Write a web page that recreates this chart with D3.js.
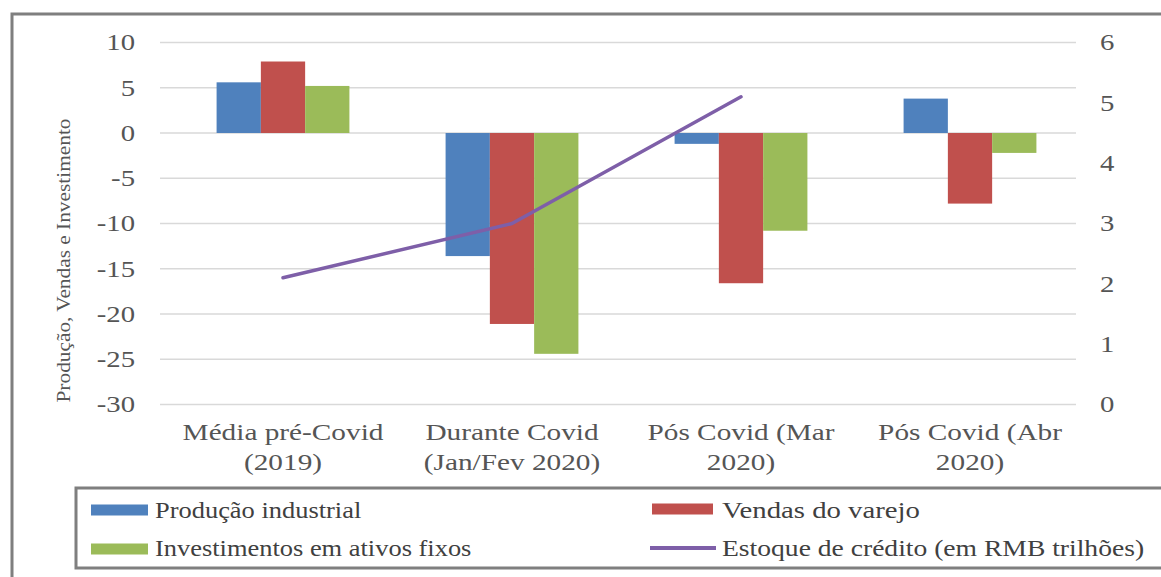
<!DOCTYPE html>
<html>
<head>
<meta charset="utf-8">
<script src="https://cdn.jsdelivr.net/npm/d3@7"></script>
<style>
  html, body { margin: 0; padding: 0; background: #fff; }
  svg { display: block; }
  svg text { font-family: "Liberation Serif", "Times New Roman", Times, "DejaVu Serif", serif; }
</style>
</head>
<body>
<svg id="chart" width="1161" height="577"></svg>
<script>
// ---- data ----
const categories = ["Média pré-Covid (2019)", "Durante Covid (Jan/Fev 2020)", "Pós Covid (Mar 2020)", "Pós Covid (Abr 2020)"];
const categoryLines = [["Média pré-Covid", "(2019)"], ["Durante Covid", "(Jan/Fev 2020)"], ["Pós Covid (Mar", "2020)"], ["Pós Covid (Abr", "2020)"]];
const seriesNames = ["Produção industrial", "Vendas do varejo", "Investimentos em ativos fixos"];
const producao = [5.6, -13.6, -1.2, 3.8];
const vendas = [7.9, -21.1, -16.6, -7.8];
const investimentos = [5.2, -24.4, -10.8, -2.2];
const creditoName = "Estoque de crédito (em RMB trilhões)";
const credito = [2.1, 3.0, 5.1];            // first three categories only
const leftTicks = [10, 5, 0, -5, -10, -15, -20, -25, -30];
const rightTicks = [0, 1, 2, 3, 4, 5, 6];
const yTitle = "Produção, Vendas e Investimento";
const colors = ["#4F81BD", "#C0504D", "#9BBB59"];
const lineColor = "#7E5FA8";

const seriesValues = [producao, vendas, investimentos];
const FONT = "'Liberation Serif', 'Times New Roman', Times, 'DejaVu Serif', serif";

// ---- layout ----
const svg = d3.select("#chart");
const plotLeft = 160, plotRight = 1076, plotTop = 42.5, plotBottom = 404.5;

const yL = d3.scaleLinear().domain([-30, 10]).range([plotBottom, plotTop]);
const yR = d3.scaleLinear().domain([0, 6]).range([plotBottom, plotTop]);
const x = d3.scaleBand().domain(categories).range([168.5, 1084.5]).paddingInner(0.42).paddingOuter(0.21);
const xs = d3.scaleBand().domain(seriesNames).range([0, x.bandwidth()]);

// outer frame
svg.append("rect").attr("x", 12).attr("y", 14).attr("width", 1200).attr("height", 620)
  .attr("fill", "none").attr("stroke", "#7f7f7f").attr("stroke-width", 3);

// gridlines
svg.append("g").selectAll("line").data(leftTicks).join("line")
  .attr("x1", plotLeft).attr("x2", plotRight)
  .attr("y1", d => yL(d)).attr("y2", d => yL(d))
  .attr("stroke", "#d9d9d9").attr("stroke-width", 1.5);

// axes
const tickSX = 1.25;
const leftAxis = svg.append("g").attr("transform", `translate(${plotLeft},0)`)
  .call(d3.axisLeft(yL).tickValues(leftTicks).tickSize(0).tickPadding(25).tickFormat(d => String(d)));
const rightAxis = svg.append("g").attr("transform", `translate(${plotRight},0)`)
  .call(d3.axisRight(yR).tickValues(rightTicks).tickSize(0).tickPadding(24).tickFormat(d => String(d)));
[leftAxis, rightAxis].forEach(ax => {
  ax.attr("font-family", FONT).attr("font-size", 23);
  ax.select(".domain").remove();
  ax.selectAll("text")
    .style("font-family", FONT)
    .attr("fill", "#555555")
    .each(function () {
      const t = d3.select(this);
      t.attr("x", +t.attr("x") / tickSX).attr("transform", `scale(${tickSX},1)`);
    });
});

// y title
svg.append("text")
  .attr("transform", `translate(70,${(118 + 403) / 2}) rotate(-90)`)
  .attr("text-anchor", "middle").attr("font-size", 19).attr("fill", "#555555")
  .style("font-family", FONT)
  .attr("textLength", 284).attr("lengthAdjust", "spacingAndGlyphs")
  .text(yTitle);

// bars
const groups = svg.append("g").selectAll("g").data(categories).join("g")
  .attr("transform", d => `translate(${x(d)},0)`);
groups.selectAll("rect")
  .data((d, i) => seriesNames.map((s, j) => ({ s, j, v: seriesValues[j][i] })))
  .join("rect")
  .attr("x", d => xs(d.s)).attr("width", xs.bandwidth())
  .attr("y", d => yL(Math.max(0, d.v)))
  .attr("height", d => Math.abs(yL(d.v) - yL(0)))
  .attr("fill", d => colors[d.j]);

// line
const lineGen = d3.line().x((d, i) => x(categories[i]) + x.bandwidth() / 2).y(d => yR(d));
svg.append("path").datum(credito).attr("d", lineGen)
  .attr("fill", "none").attr("stroke", lineColor).attr("stroke-width", 3.5)
  .attr("stroke-linejoin", "round").attr("stroke-linecap", "round");

// category labels
const catSX = 1.22;
svg.append("g").selectAll("text").data(categories).join("text")
  .attr("transform", d => `translate(${x(d) + x.bandwidth() / 2},440) scale(${catSX},1)`)
  .attr("text-anchor", "middle").attr("font-size", 24).attr("fill", "#555555")
  .style("font-family", FONT)
  .each(function (d, i) {
    const t = d3.select(this);
    categoryLines[i].forEach((ln, k) => {
      t.append("tspan").attr("x", 0).attr("dy", k === 0 ? 0 : 30).text(ln);
    });
  });

// legend
svg.append("rect").attr("x", 76).attr("y", 488).attr("width", 1200).attr("height", 80)
  .attr("fill", "none").attr("stroke", "#7f7f7f").attr("stroke-width", 3);

const legendItems = [
  { name: seriesNames[0], type: "bar", color: colors[0], sx: 91, sw: 57, tx: 155, cy: 510, base: 518, k: 1.15 },
  { name: seriesNames[1], type: "bar", color: colors[1], sx: 652, sw: 61, tx: 722, cy: 509, base: 518, k: 1.25 },
  { name: seriesNames[2], type: "bar", color: colors[2], sx: 91, sw: 57, tx: 155, cy: 549, base: 556, k: 1.15 },
  { name: creditoName, type: "line", color: lineColor, sx: 650, sw: 66, tx: 722, cy: 548, base: 556, k: 1.2 }
];
const leg = svg.append("g").selectAll("g").data(legendItems).join("g");
leg.filter(d => d.type === "bar").append("rect")
  .attr("x", d => d.sx).attr("y", d => d.cy - 5.5).attr("width", d => d.sw).attr("height", 11)
  .attr("fill", d => d.color);
leg.filter(d => d.type === "line").append("line")
  .attr("x1", d => d.sx).attr("x2", d => d.sx + d.sw).attr("y1", d => d.cy).attr("y2", d => d.cy)
  .attr("stroke", d => d.color).attr("stroke-width", 4);
leg.append("text")
  .attr("transform", d => `translate(${d.tx},${d.base}) scale(${d.k},1)`)
  .attr("font-size", 23).attr("fill", "#404040")
  .style("font-family", FONT)
  .text(d => d.name);
</script>
</body>
</html>
